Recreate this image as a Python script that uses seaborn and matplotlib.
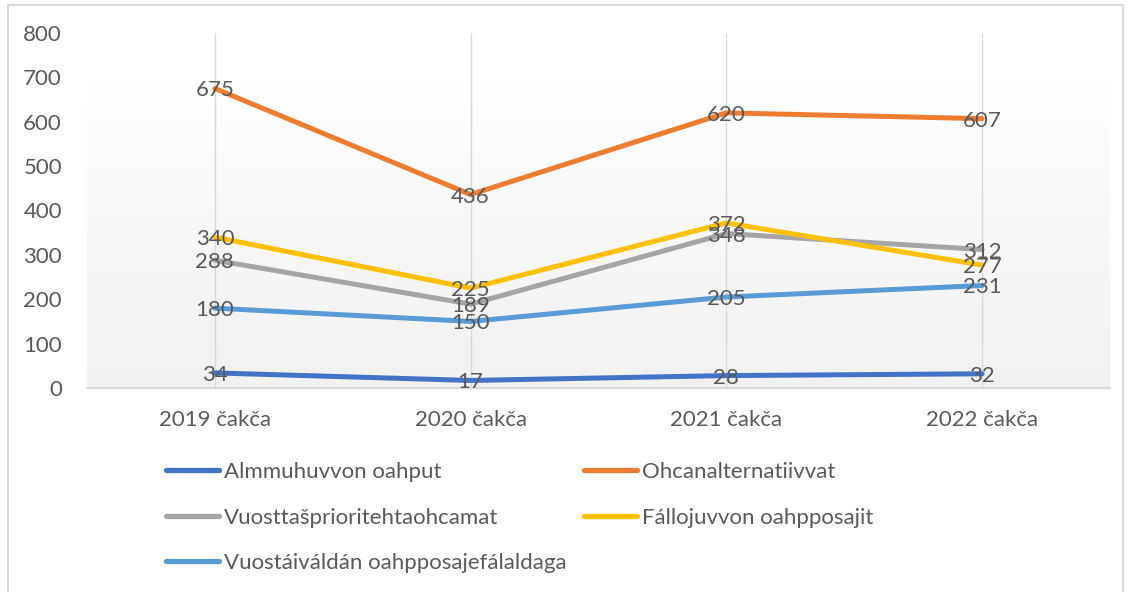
import matplotlib.pyplot as plt
import numpy as np
import pandas as pd
import seaborn as sns
from matplotlib.patches import Rectangle

YEARS = ["2019 čakča", "2020 čakča", "2021 čakča", "2022 čakča"]
SERIES = [
    "Almmuhuvvon oahput",
    "Ohcanalternatiivvat",
    "Vuosttašprioritehtaohcamat",
    "Fállojuvvon oahpposajit",
    "Vuostáiváldán oahpposajefálaldaga",
]
ALMMUHUVVON = [34, 17, 28, 32]
OHCAN = [675, 436, 620, 607]
VUOSTTAS = [288, 189, 348, 312]
FALLOJUVVON = [340, 225, 372, 277]
VUOSTAIVALDAN = [180, 150, 205, 231]
COLORS = ["#4472C4", "#ED7D31", "#A5A5A5", "#FFC000", "#5B9BD5"]

TEXT = "#595959"
FS = 16

values = [ALMMUHUVVON, OHCAN, VUOSTTAS, FALLOJUVVON, VUOSTAIVALDAN]
data = pd.DataFrame(
    [
        {"year": year, "pos": i, "series": name, "value": v}
        for name, vals in zip(SERIES, values)
        for i, (year, v) in enumerate(zip(YEARS, vals))
    ]
)

sns.set_theme(style="white")
plt.rcParams["font.family"] = ["Lato", "DejaVu Sans"]

fig = plt.figure(figsize=(11.3, 5.92), dpi=100)
ax = fig.add_axes([87 / 1130, 1 - 388 / 592, (1110 - 87) / 1130, (388 - 33) / 592])

# soft white-to-grey fill behind the plot area
gradient = np.linspace(0, 1, 256).reshape(-1, 1)
ax.imshow(
    gradient,
    extent=[0, 1, 0, 0.86],
    transform=ax.transAxes,
    aspect="auto",
    cmap=plt.matplotlib.colors.LinearSegmentedColormap.from_list("bg", ["#f1f1f1", "#ffffff"]),
    origin="lower",
    zorder=0,
)

for pos in range(len(YEARS)):
    ax.axvline(pos, color="#d9d9d9", lw=1, zorder=1)

sns.lineplot(
    data=data,
    x="pos",
    y="value",
    hue="series",
    hue_order=SERIES,
    palette=COLORS,
    linewidth=3.6,
    ax=ax,
    zorder=3,
)

for vals in values:
    for pos, v in enumerate(vals):
        ax.annotate(str(v), (pos, v), xytext=(0, -2), textcoords="offset pixels",
                    ha="center", va="center", fontsize=FS, color=TEXT, zorder=4)

ax.set_xlim(-0.5, 3.5)
ax.set_ylim(0, 800)
ax.set_yticks(range(0, 801, 100))
ax.set_xticks(range(len(YEARS)))
ax.set_xticklabels(YEARS)
ax.set_xlabel("")
ax.set_ylabel("")
ax.tick_params(axis="x", length=0, pad=16, labelsize=FS, labelcolor=TEXT)
ax.tick_params(axis="y", length=0, pad=18, labelsize=FS, labelcolor=TEXT)
for side in ("top", "right", "left"):
    ax.spines[side].set_visible(False)
ax.spines["bottom"].set_color("#d9d9d9")
ax.spines["bottom"].set_linewidth(1.5)

handles, labels = ax.get_legend_handles_labels()
ax.get_legend().remove()
for h in handles:
    h.set_linewidth(3.8)

legend_kw = dict(
    frameon=False,
    fontsize=FS,
    handlelength=2.4,
    handletextpad=0.2,
    labelspacing=1.15,
    borderpad=0,
    borderaxespad=0,
    loc="upper left",
    labelcolor=TEXT,
)
fig.legend([handles[i] for i in (0, 2, 4)], [labels[i] for i in (0, 2, 4)],
           bbox_to_anchor=(166 / 1130, 1 - 462 / 592), **legend_kw)
fig.legend([handles[i] for i in (1, 3)], [labels[i] for i in (1, 3)],
           bbox_to_anchor=(584 / 1130, 1 - 462 / 592), **legend_kw)

# chart frame
fig.patches.append(
    Rectangle((8 / 1130, -0.1), (1123 - 8) / 1130, 1.1 - 5 / 592,
              transform=fig.transFigure, fill=False, edgecolor="#d9d9d9", lw=1.5)
)

fig.savefig("out.png", dpi=100)
